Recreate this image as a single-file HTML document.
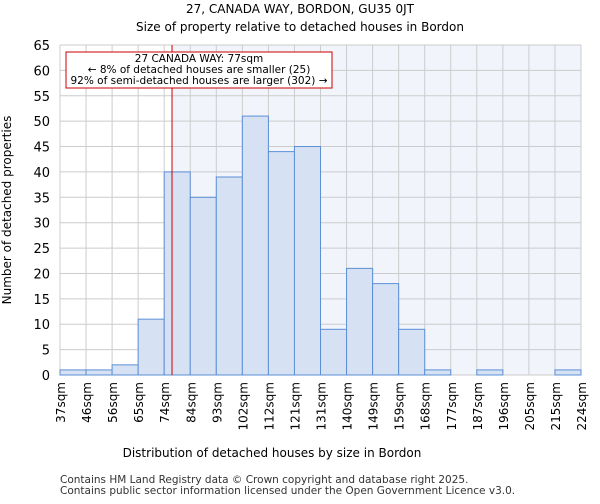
<!DOCTYPE html>
<html><head><meta charset="utf-8"><style>
body{margin:0;background:#fff;font-family:"DejaVu Sans","Liberation Sans",sans-serif;}
</style></head><body>
<svg id="c" width="600" height="500" xmlns="http://www.w3.org/2000/svg" font-family="DejaVu Sans, Liberation Sans, sans-serif">
<text x="300" y="13" text-anchor="middle" font-size="12">27, CANADA WAY, BORDON, GU35 0JT</text>
<text x="300" y="31" text-anchor="middle" font-size="12">Size of property relative to detached houses in Bordon</text>
<g id="plot"></g>
<text x="272" y="457" text-anchor="middle" font-size="12">Distribution of detached houses by size in Bordon</text>
<text transform="translate(11,210) rotate(-90)" text-anchor="middle" font-size="12">Number of detached properties</text>
<text x="60" y="483" font-size="10.5" fill="#333">Contains HM Land Registry data © Crown copyright and database right 2025.</text>
<text x="60" y="494" font-size="10.5" fill="#333">Contains public sector information licensed under the Open Government Licence v3.0.</text>
</svg>
<script>
const binLabels=["37sqm","46sqm","56sqm","65sqm","74sqm","84sqm","93sqm","102sqm","112sqm","121sqm","131sqm","140sqm","149sqm","159sqm","168sqm","177sqm","187sqm","196sqm","205sqm","215sqm","224sqm"];
const counts=[1,1,2,11,40,35,39,51,44,45,9,21,18,9,1,0,1,0,0,1];
const yTicks=[0,5,10,15,20,25,30,35,40,45,50,55,60,65];
const markerBin=4.3;
const X0=60,X1=581,Y0=375,Y1=45,YMAX=65;
const n=counts.length;
const xs=i=>X0+(X1-X0)*i/n;
const ys=v=>Y0-(Y0-Y1)*v/YMAX;
const NS="http://www.w3.org/2000/svg";
const g=document.getElementById('plot');
function mk(t,a){const e=document.createElementNS(NS,t);for(const k in a)e.setAttribute(k,a[k]);g.appendChild(e);return e;}
let e=mk('rect',{x:xs(markerBin),y:Y1,width:X1-xs(markerBin),height:Y0-Y1,fill:'#f1f4fb'});


yTicks.forEach(t=>{
 let l=mk('line',{x1:X0,x2:X1,y1:ys(t),y2:ys(t),stroke:'#cccccc','stroke-width':1});
 
 
 let tx=mk('text',{x:X0-10,y:ys(t)+5,'text-anchor':'end','font-size':13});
 tx.textContent=t;
 
 
});
binLabels.forEach((b,i)=>{
 let l=mk('line',{x1:xs(i),x2:xs(i),y1:Y1,y2:Y0,stroke:'#cccccc','stroke-width':1});
 
 
 let tx=mk('text',{transform:`translate(${xs(i)+5},382) rotate(-90)`,'text-anchor':'end','font-size':12});
 tx.textContent=b;
 
 
});
counts.forEach((c,i)=>{
 let r=mk('rect',{x:xs(i),y:ys(c),width:xs(i+1)-xs(i),height:Y0-ys(c),fill:'#d6e1f3',stroke:'#5b8fd6','stroke-width':1});
 
 
});
let m=mk('line',{x1:xs(markerBin),x2:xs(markerBin),y1:Y1,y2:Y0,stroke:'#cc0000','stroke-width':1});


let bx=mk('rect',{x:66,y:52,width:266,height:36,fill:'#fff',stroke:'#cc0000','stroke-width':1});


["27 CANADA WAY: 77sqm","← 8% of detached houses are smaller (25)","92% of semi-detached houses are larger (302) →"].forEach((s,i)=>{
 let t=mk('text',{x:199,y:62+i*11,'text-anchor':'middle','font-size':10.5});
 t.textContent=s;
 
 
});
</script>
</body></html>
